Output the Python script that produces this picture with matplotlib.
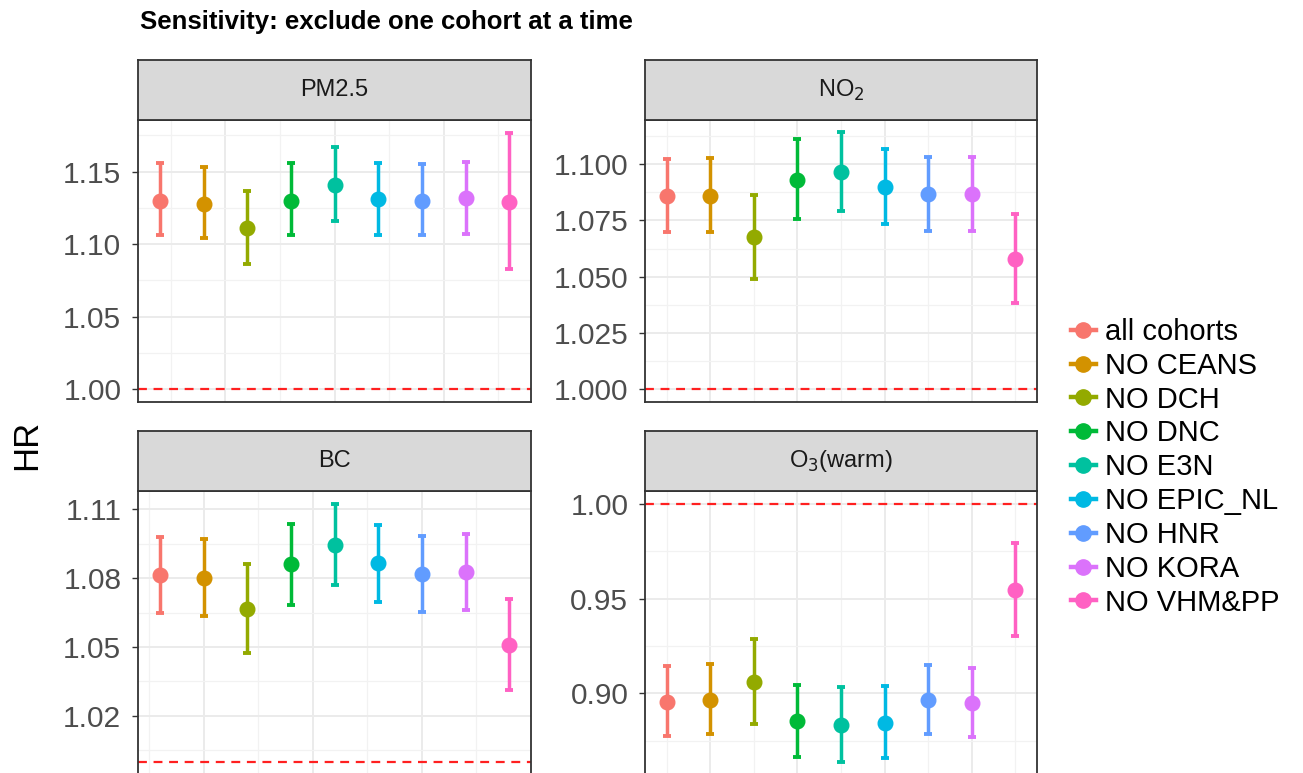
import numpy as np
import matplotlib.pyplot as plt
from matplotlib.lines import Line2D
from matplotlib.ticker import MultipleLocator, FormatStrFormatter

plt.rcParams['font.family'] = ['Liberation Sans', 'DejaVu Sans']

cohorts = ['all cohorts', 'NO CEANS', 'NO DCH', 'NO DNC', 'NO E3N',
           'NO EPIC_NL', 'NO HNR', 'NO KORA', 'NO VHM&PP']
colors = ['#F8766D', '#D39200', '#93AA00', '#00BA38', '#00C19F',
          '#00B9E3', '#619CFF', '#DB72FB', '#FF61C3']
xpos = np.arange(1, 10)

pm25_hr = [1.130, 1.128, 1.111, 1.130, 1.141, 1.131, 1.130, 1.132, 1.129]
pm25_lo = [1.106, 1.104, 1.086, 1.106, 1.116, 1.106, 1.106, 1.107, 1.083]
pm25_hi = [1.156, 1.153, 1.137, 1.156, 1.167, 1.156, 1.155, 1.157, 1.177]

no2_hr = [1.086, 1.086, 1.0675, 1.093, 1.0966, 1.0898, 1.0868, 1.0868, 1.0577]
no2_lo = [1.0697, 1.0697, 1.0491, 1.0755, 1.0794, 1.0734, 1.0705, 1.0705, 1.0381]
no2_hi = [1.1024, 1.1030, 1.0865, 1.1111, 1.1145, 1.1068, 1.1031, 1.1031, 1.0779]

bc_hr = [1.0813, 1.0801, 1.0665, 1.0860, 1.0944, 1.0864, 1.0817, 1.0825, 1.0507]
bc_lo = [1.0650, 1.0635, 1.0474, 1.0682, 1.0769, 1.0695, 1.0653, 1.0660, 1.0311]
bc_hi = [1.0978, 1.0970, 1.0860, 1.1036, 1.1122, 1.1032, 1.0983, 1.0991, 1.0708]

o3_hr = [0.8956, 0.8965, 0.9058, 0.8852, 0.8834, 0.8846, 0.8965, 0.8949, 0.9544]
o3_lo = [0.8776, 0.8784, 0.8837, 0.8666, 0.8640, 0.8657, 0.8784, 0.8770, 0.9302]
o3_hi = [0.9143, 0.9154, 0.9288, 0.9044, 0.9032, 0.9037, 0.9150, 0.9136, 0.9792]

W, H = 1303, 773
fig = plt.figure(figsize=(W / 100, H / 100), dpi=100)


def box(x0, y0, x1, y1):
    # pixel box (top-left origin) -> figure fraction rect
    return [x0 / W, 1 - y1 / H, (x1 - x0) / W, (y1 - y0) / H]


panels = [
    # title, hr, lo, hi, px box, ylim, major, minor, fmt, x major, x minor
    ('PM2.5', pm25_hr, pm25_lo, pm25_hi, (138, 120, 531, 402), (0.991, 1.1857),
     0.05, 0.025, '%.2f', [2.5, 5, 7.5], [1.25, 3.75, 6.25, 8.75]),
    ('NO$_2$', no2_hr, no2_lo, no2_hi, (645, 120, 1037, 402), (0.9942, 1.1197),
     0.025, 0.0125, '%.3f', [2, 4, 6, 8], [1, 3, 5, 7, 9]),
    ('BC', bc_hr, bc_lo, bc_hi, (138, 491, 531, 776), (0.99375, 1.118),
     0.03, 0.015, '%.2f', [2, 4.5, 7], [0.75, 3.25, 5.75, 8.25]),
    ('O$_3$(warm)', o3_hr, o3_lo, o3_hi, (645, 491, 1037, 776), (0.8564, 1.0069),
     0.05, 0.025, '%.2f', [2, 4, 6, 8], [1, 3, 5, 7, 9]),
]

for title, hr, lo, hi, pb, ylim, maj, mnr, fmt, xmaj, xmin in panels:
    ax = fig.add_axes(box(*pb))
    hr = np.array(hr)
    lo = np.array(lo)
    hi = np.array(hi)
    for i in range(len(cohorts)):
        ax.errorbar(xpos[i], hr[i], yerr=[[hr[i] - lo[i]], [hi[i] - hr[i]]],
                    fmt='o', color=colors[i], ms=10.5, elinewidth=2.5,
                    capsize=3.2, capthick=2.8, zorder=3)
    ax.axhline(1.0, color='#FF2020', lw=1.6, dashes=(4, 3), zorder=2)
    ax.set_xlim(0.5, 9.5)
    ax.set_ylim(*ylim)
    ax.yaxis.set_major_locator(MultipleLocator(maj))
    ax.yaxis.set_minor_locator(MultipleLocator(mnr))
    ax.yaxis.set_major_formatter(FormatStrFormatter(fmt))
    ax.set_xticks(xmaj)
    ax.set_xticks(xmin, minor=True)
    ax.grid(which='major', color='#EBEBEB', lw=1.4, zorder=0)
    ax.grid(which='minor', color='#F2F2F2', lw=0.9, zorder=0)
    ax.set_axisbelow(True)
    ax.tick_params(axis='x', which='both', length=0, labelbottom=False)
    ax.tick_params(axis='y', which='major', length=4, width=1, color='#333333',
                   pad=8, labelsize=21.5, labelcolor='#4D4D4D')
    ax.tick_params(axis='y', which='minor', length=0)
    for s in ax.spines.values():
        s.set_color('#333333')
        s.set_linewidth(1.3)

    # facet strip
    sax = fig.add_axes(box(pb[0], pb[1] - 60, pb[2], pb[1]))
    sax.set_facecolor('#D9D9D9')
    sax.set_xticks([])
    sax.set_yticks([])
    for s in sax.spines.values():
        s.set_color('#333333')
        s.set_linewidth(1.3)
    sax.text(0.5, 0.5, title, ha='center', va='center', fontsize=17,
             color='#1A1A1A', transform=sax.transAxes)

fig.text(140 / W, 1 - 22 / H, 'Sensitivity: exclude one cohort at a time',
         fontsize=18.5, fontweight='bold', ha='left', va='center')
fig.text(27 / W, 1 - 445 / H, 'HR', fontsize=25, rotation=90,
         ha='center', va='center')

handles = [Line2D([], [], color=c, marker='o', lw=3.2, ms=11) for c in colors]
fig.legend(handles, cohorts, loc='upper left',
           bbox_to_anchor=(1071 / W, 1 - 318 / H), frameon=False,
           fontsize=21, handlelength=0.85, handletextpad=0.3,
           labelspacing=0.2, borderpad=0, borderaxespad=0)

fig.savefig('out.png', dpi=100)
